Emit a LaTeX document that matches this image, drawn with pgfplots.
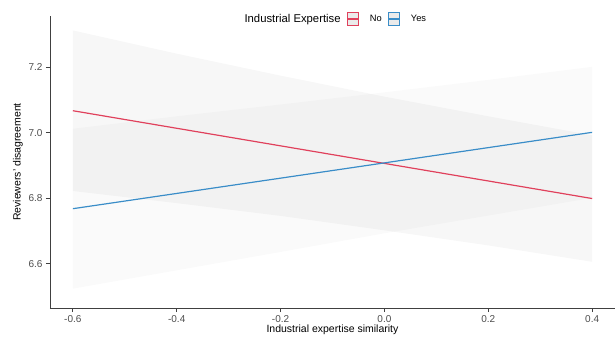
\documentclass[border=0pt]{standalone}
\usepackage{fontspec}
\setmainfont{Liberation Sans}
\usepackage{pgfplots}
\pgfplotsset{compat=1.18}
\definecolor{noRed}{HTML}{E0415C}
\definecolor{yesBlue}{HTML}{3A8DC8}
\definecolor{tickGray}{HTML}{4D4D4D}
\begin{document}
\begin{tikzpicture}
\useasboundingbox (-50pt,-30pt) rectangle (565pt,308pt);
\begin{axis}[
  at={(0,0)}, anchor=south west,
  scale only axis, width=565pt, height=292pt,
  xmin=-0.644, xmax=0.444, ymin=6.465, ymax=7.356,
  axis x line*=bottom, axis y line*=left,
  axis line style={black!75, line width=0.8pt},
  xtick={-0.6,-0.4,-0.2,0,0.2,0.4},
  xticklabels={-0.6,-0.4,-0.2,0.0,0.2,0.4},
  ytick={6.6,6.8,7.0,7.2},
  yticklabels={6.6,6.8,7.0,7.2},
  tick align=outside, major tick length=4pt,
  tick style={black!75, line width=0.8pt},
  tick label style={font=\fontsize{10}{11}\selectfont, text=tickGray},
  label style={font=\fontsize{10.5}{12}\selectfont},
  xlabel={Industrial expertise similarity},
  ylabel={Reviewers' disagreement},
  xlabel style={yshift=5pt},
  ylabel style={yshift=-1pt},
  legend columns=3,
  legend style={at={(0.505,0.99)}, anchor=center, draw=none, fill=none,
    font=\fontsize{9.3}{10}\selectfont,
    /tikz/every even column/.append style={column sep=4pt}},
  legend image code/.code={
    \draw[#1, fill=black!8, line width=0.7pt] (0pt,-6.5pt) rectangle (11pt,6.5pt);
    \draw[#1] (0pt,0pt) -- (11pt,0pt);
    \path (20pt,0pt);
  },
]
% confidence ribbons (upper edge left to right, lower edge right to left)
\addplot[draw=none, fill=black, fill opacity=0.032, forget plot] coordinates {
  (-0.6,7.312) (-0.4,7.241) (-0.2,7.174) (0,7.110) (0.2,7.050) (0.4,6.992)
  (0.4,6.606) (0.2,6.656) (0,6.702) (-0.2,6.746) (-0.4,6.785) (-0.6,6.822)
} -- cycle;
\addplot[draw=none, fill=black, fill opacity=0.02, forget plot] coordinates {
  (-0.6,7.012) (-0.4,7.050) (-0.2,7.086) (0,7.123) (0.2,7.161) (0.4,7.201)
  (0.4,6.801) (0.2,6.747) (0,6.693) (-0.2,6.636) (-0.4,6.580) (-0.6,6.524)
} -- cycle;
\addlegendimage{empty legend}
\addlegendentry{\fontsize{11.3}{12}\selectfont Industrial Expertise\hspace{-3pt}}
% fitted lines
\addplot[noRed, line width=1.2pt] coordinates {(-0.6,7.067) (0.4,6.799)};
\addlegendentry{No}
\addplot[yesBlue, line width=1.2pt] coordinates {(-0.6,6.768) (0.4,7.001)};
\addlegendentry{Yes}
\end{axis}
\end{tikzpicture}
\end{document}
